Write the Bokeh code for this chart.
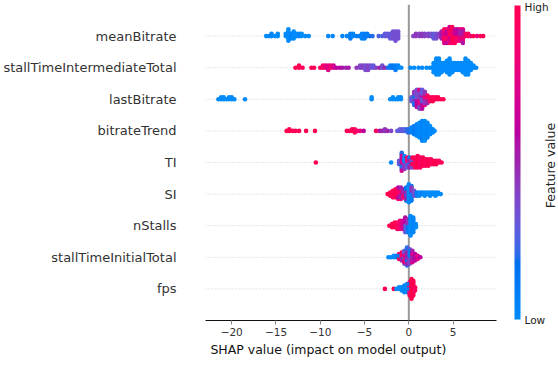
import numpy as np
from bokeh.plotting import figure
from bokeh.models import (ColumnDataSource, Range1d, Span, LinearColorMapper, ColorBar,
                          FixedTicker)
from bokeh.core.properties import value
from bokeh.embed import file_html
from bokeh.resources import INLINE

# ---------------- data ----------------
# features, top to bottom
features = ["meanBitrate", "stallTimeIntermediateTotal", "lastBitrate", "bitrateTrend",
            "TI", "SI", "nStalls", "stallTimeInitialTotal", "fps"]

# each entry: (SHAP value, normalised feature value 0=Low..1=High, number of samples)
meanBitrate_pts = [
    (-16.1, 0.0, 1), (-15.8, 0.0, 1), (-15.5, 0.05, 2), (-15.1, 0.0, 1), (-14.8, 0.0, 2),
    (-13.9, 0.0, 2), (-13.6, 0.0, 6), (-13.3, 0.05, 3), (-13.0, 0.0, 4), (-12.7, 0.0, 2),
    (-12.4, 0.05, 2), (-12.1, 0.0, 2), (-11.7, 0.0, 1), (-11.3, 0.0, 1),
    (-9.1, 0.05, 1), (-8.6, 0.05, 1),
    (-7.5, 0.05, 1), (-7.0, 0.05, 1), (-6.6, 0.1, 3), (-6.3, 0.05, 2), (-5.9, 0.1, 1),
    (-5.6, 0.1, 1), (-5.3, 0.05, 3), (-5.0, 0.1, 3), (-4.7, 0.1, 2), (-4.4, 0.15, 1), (-4.1, 0.2, 1),
    (-3.4, 0.25, 1), (-3.0, 0.25, 1), (-2.7, 0.3, 2), (-2.4, 0.3, 2), (-2.1, 0.3, 3),
    (-1.8, 0.35, 4), (-1.5, 0.35, 5), (-1.2, 0.35, 4),
    (0.5, 0.4, 1), (0.8, 0.45, 2), (1.2, 0.4, 2), (1.5, 0.45, 2), (1.8, 0.4, 2), (2.2, 0.4, 2),
    (2.5, 0.35, 2), (2.8, 0.3, 3), (3.1, 0.35, 3), (3.4, 0.4, 2),
    (3.7, 0.55, 4), (4.0, 0.75, 5), (4.0, 0.95, 2), (4.3, 0.9, 4), (4.3, 0.6, 3),
    (4.6, 0.95, 5), (4.6, 0.7, 3), (4.9, 0.85, 4), (4.9, 1.0, 4), (5.2, 0.95, 4), (5.2, 0.65, 3),
    (5.5, 0.9, 3), (5.5, 0.6, 3), (5.8, 0.75, 4), (5.8, 0.5, 2), (6.1, 0.8, 4), (6.1, 0.55, 3),
    (6.4, 0.9, 2), (6.7, 0.95, 2), (7.0, 0.85, 1), (7.3, 1.0, 1), (7.7, 0.8, 1), (8.1, 0.95, 1),
    (8.4, 1.0, 1),
]
stallTimeIntermediateTotal_pts = [
    (-12.8, 1.0, 1), (-12.4, 1.0, 2), (-12.0, 0.95, 1), (-11.0, 1.0, 1), (-10.7, 0.95, 1),
    (-10.0, 0.95, 1), (-9.7, 0.9, 2), (-9.4, 0.8, 2), (-9.1, 0.75, 3), (-8.8, 0.85, 2),
    (-8.5, 0.7, 2), (-8.2, 0.6, 1), (-7.8, 0.6, 1),
    (-7.5, 0.55, 1), (-7.1, 0.5, 1), (-6.8, 0.55, 1),
    (-5.9, 0.45, 1), (-5.5, 0.4, 2), (-5.2, 0.4, 2), (-4.9, 0.35, 3), (-4.6, 0.4, 3),
    (-4.3, 0.35, 2), (-4.0, 0.3, 2), (-3.7, 0.4, 1), (-3.3, 0.5, 1), (-3.0, 0.35, 2),
    (-2.7, 0.5, 1), (-2.4, 0.2, 1), (-2.1, 0.1, 2), (-1.8, 0.15, 2), (-1.5, 0.1, 3),
    (-1.2, 0.05, 2), (-0.85, 0.0, 1),
    (0.2, 0.0, 1), (0.6, 0.0, 1), (1.1, 0.0, 1), (1.5, 0.0, 1), (2.0, 0.0, 1), (2.4, 0.0, 1),
    (2.8, 0.0, 5), (3.1, 0.0, 8), (3.4, 0.0, 8), (3.7, 0.0, 5), (4.0, 0.0, 4), (4.3, 0.0, 6),
    (4.6, 0.0, 8), (4.9, 0.0, 5), (5.2, 0.0, 4), (5.5, 0.0, 4), (5.8, 0.0, 4), (6.1, 0.0, 5),
    (6.4, 0.0, 8), (6.7, 0.0, 7), (7.0, 0.0, 4), (7.3, 0.0, 2), (7.6, 0.0, 1),
]
lastBitrate_pts = [
    (-21.5, 0.0, 1), (-21.2, 0.0, 2), (-20.9, 0.0, 2), (-20.6, 0.0, 1), (-20.3, 0.0, 2),
    (-20.0, 0.0, 2), (-19.7, 0.0, 1), (-18.5, 0.0, 1),
    (-4.2, 0.0, 2), (-2.1, 0.0, 1), (-1.8, 0.0, 2), (-1.5, 0.0, 1), (-1.2, 0.0, 2), (-0.9, 0.0, 2),
    (0.3, 0.3, 3), (0.6, 0.45, 5), (0.6, 0.2, 3), (0.9, 0.6, 5), (0.9, 0.35, 5),
    (1.2, 0.75, 6), (1.2, 0.4, 5), (1.5, 0.6, 6), (1.5, 0.3, 5), (1.8, 0.8, 4), (1.8, 0.45, 4),
    (2.1, 0.9, 3), (2.1, 0.5, 2), (2.4, 0.95, 3), (2.7, 1.0, 3), (3.0, 0.95, 2), (3.3, 1.0, 2),
    (3.6, 1.0, 1), (3.9, 1.0, 1),
]
bitrateTrend_pts = [
    (-13.8, 1.0, 1), (-13.5, 1.0, 2), (-13.1, 1.0, 1), (-12.8, 0.95, 1), (-12.4, 1.0, 1),
    (-11.6, 1.0, 1), (-10.6, 1.0, 1),
    (-7.0, 1.0, 1), (-6.7, 0.95, 1), (-6.4, 1.0, 2), (-6.1, 0.95, 3), (-5.8, 0.9, 1),
    (-5.5, 0.8, 1), (-5.1, 0.6, 1),
    (-3.7, 1.0, 1), (-3.3, 0.55, 1), (-3.0, 0.5, 1), (-2.7, 0.45, 2), (-2.4, 0.5, 1), (-2.0, 0.4, 1),
    (-1.3, 0.3, 1), (-1.0, 0.3, 2), (-0.7, 0.3, 2), (-0.4, 0.25, 2), (-0.1, 0.2, 3),
    (0.3, 0.05, 4), (0.6, 0.1, 6), (0.9, 0.05, 8), (1.2, 0.0, 10), (1.5, 0.05, 13),
    (1.8, 0.0, 13), (2.1, 0.05, 10), (2.4, 0.0, 6), (2.7, 0.05, 3), (2.9, 0.0, 1),
]
TI_pts = [
    (-10.5, 1.0, 1), (-2.0, 0.0, 1),
    (-1.1, 0.3, 3), (-0.8, 0.2, 8), (-0.8, 0.7, 4), (-0.5, 0.45, 6), (-0.5, 0.0, 3),
    (-0.2, 0.3, 5), (-0.2, 0.85, 2),
    (0.1, 0.1, 4), (0.1, 0.5, 3), (0.4, 0.35, 5), (0.4, 1.0, 2), (0.7, 0.95, 7), (1.0, 1.0, 8),
    (1.3, 0.9, 7), (1.6, 1.0, 6), (1.9, 0.95, 5), (2.2, 1.0, 5), (2.5, 0.95, 4), (2.8, 1.0, 3),
    (3.1, 1.0, 3), (3.4, 0.95, 2), (3.7, 1.0, 1),
]
SI_pts = [
    (-2.4, 1.0, 1), (-2.1, 1.0, 3), (-1.8, 0.95, 5), (-1.5, 1.0, 6), (-1.2, 0.9, 6),
    (-1.2, 0.6, 2), (-0.9, 0.8, 5), (-0.9, 0.5, 3), (-0.6, 0.5, 4), (-0.6, 0.85, 2),
    (-0.3, 0.15, 6), (-0.3, 0.5, 3), (0.0, 0.0, 12), (0.3, 0.1, 8), (0.3, 0.45, 2),
    (0.6, 0.35, 4), (0.9, 0.1, 3), (1.2, 0.0, 3), (1.5, 0.05, 2), (1.8, 0.0, 3), (2.1, 0.0, 2),
    (2.4, 0.0, 3), (2.7, 0.0, 2), (3.0, 0.0, 3), (3.3, 0.0, 2), (3.6, 0.0, 1),
]
nStalls_pts = [
    (-2.2, 1.0, 1), (-1.9, 1.0, 3), (-1.6, 1.0, 4), (-1.3, 0.95, 5), (-1.0, 0.85, 6),
    (-0.7, 0.7, 6), (-0.4, 0.6, 7), (-0.4, 0.3, 3), (-0.1, 0.45, 5), (-0.1, 0.1, 4),
    (0.2, 0.0, 13), (0.5, 0.05, 10), (0.8, 0.0, 3),
]
stallTimeInitialTotal_pts = [
    (-2.3, 0.0, 1), (-2.0, 0.0, 1), (-1.7, 0.0, 2), (-1.4, 0.05, 2), (-1.1, 1.0, 3),
    (-1.1, 0.1, 1), (-0.8, 0.9, 4), (-0.8, 0.5, 2), (-0.5, 0.3, 6), (-0.5, 0.8, 3),
    (-0.2, 0.2, 8), (-0.2, 0.5, 4), (0.1, 0.4, 7), (0.1, 0.1, 3), (0.4, 0.5, 6), (0.4, 0.7, 2),
    (0.7, 0.6, 5), (1.0, 0.75, 3), (1.3, 0.6, 1),
]
fps_pts = [
    (-2.7, 1.0, 1), (-1.7, 1.0, 1), (-1.4, 0.0, 1), (-1.1, 0.0, 2), (-0.8, 0.0, 3),
    (-0.5, 0.05, 5), (-0.2, 0.0, 6), (0.1, 0.9, 7), (0.1, 0.1, 2), (0.3, 1.0, 13),
    (0.5, 1.0, 10), (0.7, 0.95, 3),
]

all_pts = [meanBitrate_pts, stallTimeIntermediateTotal_pts, lastBitrate_pts, bitrateTrend_pts,
           TI_pts, SI_pts, nStalls_pts, stallTimeInitialTotal_pts, fps_pts]

x_ticks = [-20, -15, -10, -5, 0, 5]
x_limits = (-22.96, 9.92)
x_label = "SHAP value (impact on model output)"
cbar_label = "Feature value"
cbar_ticks = {0: "Low", 1: "High"}

# ---------------- shap red-blue colormap (LCH interpolation) ----------------
def lch_palette(nsteps=256):
    blue_lch = [54., 70., 4.6588]
    red_lch = [54., 90., 0.35470565 + 2 * np.pi]
    l_mid = 40.
    half = nsteps // 2
    L = np.concatenate([np.linspace(blue_lch[0], l_mid, half),
                        np.linspace(l_mid, red_lch[0], nsteps - half)])
    C = np.linspace(blue_lch[1], red_lch[1], nsteps)
    H = np.linspace(blue_lch[2], red_lch[2], nsteps)
    a = C * np.cos(H)
    b = C * np.sin(H)
    fy = (L + 16) / 116
    fx = fy + a / 500
    fz = fy - b / 200

    def finv(t):
        return np.where(t > 6 / 29, t ** 3, 3 * (6 / 29) ** 2 * (t - 4 / 29))
    X = 0.95047 * finv(fx)
    Y = finv(fy)
    Z = 1.08883 * finv(fz)
    M = np.array([[3.2406, -1.5372, -0.4986],
                  [-0.9689, 1.8758, 0.0415],
                  [0.0557, -0.2040, 1.0570]])
    rgb = M @ np.vstack([X, Y, Z])
    rgb = np.clip(rgb, 0, None)
    rgb = np.where(rgb > 0.0031308, 1.055 * rgb ** (1 / 2.4) - 0.055, 12.92 * rgb)
    rgb = np.clip(rgb, 0, 1)
    return ["#%02x%02x%02x" % tuple(int(round(v * 255)) for v in rgb[:, i]) for i in range(nsteps)]

palette = lch_palette()

# ---------------- beeswarm layout (as in shap) ----------------
def swarm(xs, row_height=0.4, nbins=100):
    N = len(xs)
    quant = np.round(nbins * (xs - xs.min()) / (xs.max() - xs.min() + 1e-8))
    tie = (np.arange(N) * 0.6180339887) % 1.0
    inds = np.lexsort((tie, quant))
    ys = np.zeros(N)
    layer = 0
    last_bin = -1
    for ind in inds:
        if quant[ind] != last_bin:
            layer = 0
        ys[ind] = np.ceil(layer / 2) * ((layer % 2) * 2 - 1)
        layer += 1
        last_bin = quant[ind]
    ys *= 0.9 * (row_height / np.max(ys + 1))
    return ys

n_feat = len(features)
rows = [n_feat - 1 - i for i in range(n_feat)]
X, Y, Cv = [], [], []
for row, pts in zip(rows, all_pts):
    xs = np.concatenate([[p[0]] * p[2] for p in pts]).astype(float)
    cs = np.concatenate([[p[1]] * p[2] for p in pts]).astype(float)
    ys = swarm(xs)
    X.extend(xs)
    Y.extend(row + ys)
    Cv.extend(cs)

src = ColumnDataSource(dict(x=X, y=Y, c=Cv))

# ---------------- figure ----------------
W, H = 558, 388
FRAME_L, FRAME_R_AXIS, FRAME_TOP, FRAME_BOTTOM = 204, 496, 4, 320
px_per_unit = (FRAME_R_AXIS - FRAME_L) / (x_limits[1] - x_limits[0])
# the frame runs to the right edge so that the colour bar and its caption sit inside it;
# the axis itself is bounded to the data limits
x_end = x_limits[1] + (W - FRAME_R_AXIS) / px_per_unit

p = figure(width=W, height=H, output_backend="svg", toolbar_location=None,
           x_range=Range1d(x_limits[0], x_end), y_range=Range1d(-1, n_feat),
           min_border_left=FRAME_L, min_border_right=0, min_border_top=FRAME_TOP,
           min_border_bottom=H - FRAME_BOTTOM)
p.outline_line_color = None
p.grid.visible = False
p.background_fill_color = "white"
p.border_fill_color = "white"

# dotted row guides
guide = p.segment(x0=[x_limits[0]] * n_feat, x1=[x_limits[1]] * n_feat, y0=rows, y1=rows,
                  line_color="#cccccc", line_width=1, line_dash="1 2")
guide.level = "underlay"
# zero line
p.add_layout(Span(location=0, dimension="height", line_color="#999999", line_width=2,
                  level="underlay"))

mapper = LinearColorMapper(palette=palette, low=0, high=1)
p.scatter(x="x", y="y", source=src, size=4.6, line_color=None,
          fill_color={"field": "c", "transform": mapper})

# x axis
ax = p.xaxis[0]
ax.bounds = x_limits
ax.ticker = FixedTicker(ticks=x_ticks)
ax.major_label_overrides = {t: (("\u2212%d" % -t) if t < 0 else str(t)) for t in x_ticks}
ax.minor_tick_line_color = None
ax.major_tick_in = 0
ax.major_tick_out = 4
ax.major_tick_line_color = "#888888"
ax.axis_line_color = "#111111"
ax.axis_line_width = 1
ax.major_label_standoff = 3
ax.major_label_text_font = "DejaVu Sans"
ax.major_label_text_font_size = "10.5px"
ax.major_label_text_color = "#333333"
# trailing no-break spaces shift the centred label to where the reference has it
ax.axis_label = x_label + "\u00a0" * 27
ax.axis_label_standoff = 3
ax.axis_label_text_font = "DejaVu Sans"
ax.axis_label_text_font_size = "12.5px"
ax.axis_label_text_font_style = "normal"
ax.axis_label_text_color = "#111111"

# y axis: feature names
ay = p.yaxis[0]
ay.ticker = FixedTicker(ticks=rows)
ay.major_label_overrides = {r: f for r, f in zip(rows, features)}
ay.axis_line_color = None
ay.major_tick_line_color = None
ay.minor_tick_line_color = None
ay.major_label_standoff = 23
ay.major_label_text_font = "DejaVu Sans"
ay.major_label_text_font_size = "13px"
ay.major_label_text_color = "#333333"

# colour bar
cb = ColorBar(color_mapper=mapper, location=(309, 1), orientation="vertical",
              width=6, height=314, padding=0, margin=0,
              ticker=FixedTicker(ticks=list(cbar_ticks.keys())),
              major_label_overrides=dict(cbar_ticks),
              major_tick_line_color=None, label_standoff=4,
              major_label_text_font="DejaVu Sans", major_label_text_font_size="10.5px",
              major_label_text_color="#222222",
              bar_line_color=None, border_line_color=None, background_fill_color=None)
p.add_layout(cb)

# colour bar caption, reading upwards
cap_x = x_limits[1] + (549.5 - FRAME_R_AXIS) / px_per_unit
cap_y = n_feat - (165 - FRAME_TOP) / ((FRAME_BOTTOM - FRAME_TOP) / (n_feat + 1))
p.text(x=[cap_x], y=[cap_y], text=[cbar_label], angle=np.pi / 2,
       text_align="center", text_baseline="middle",
       text_font=value("DejaVu Sans"), text_font_size=value("12.5px"),
       text_color="#222222")

open("out.html", "w").write(file_html(p, INLINE))
